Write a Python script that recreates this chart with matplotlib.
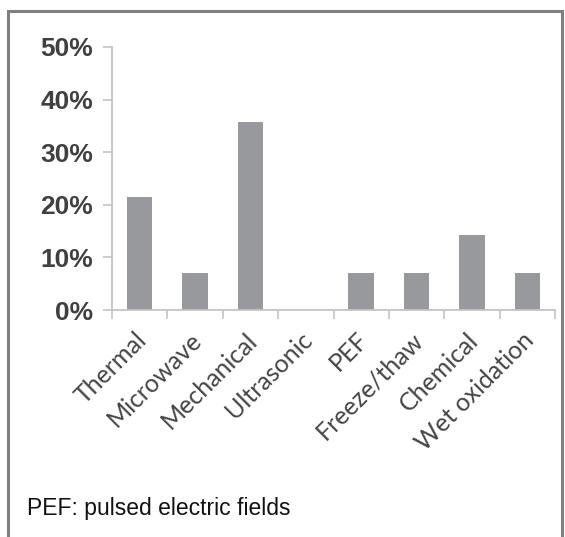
import matplotlib
matplotlib.use("Agg")
import matplotlib.pyplot as plt
import matplotlib.transforms as mtransforms
from matplotlib.patches import Rectangle
from matplotlib.ticker import PercentFormatter

categories = ["Thermal", "Microwave", "Mechanical", "Ultrasonic", "PEF",
              "Freeze/thaw", "Chemical", "Wet oxidation"]
shares = [0.214, 0.071, 0.357, 0.0, 0.071, 0.071, 0.143, 0.071]
yticks = [0.0, 0.1, 0.2, 0.3, 0.4, 0.5]
footnote = "PEF: pulsed electric fields"

W, H = 565, 537
fig = plt.figure(figsize=(W / 100, H / 100), dpi=100)
fig.patch.set_facecolor("white")

# axes box in pixels: x 112..555, y 47..310 (from top)
ax = fig.add_axes([112 / W, (H - 310) / H, (555 - 112) / W, (310 - 47) / H])

x = range(len(categories))
ax.bar(x, shares, width=0.46, color="#98999d")

ax.set_xlim(-0.5, len(categories) - 0.5)
ax.set_ylim(0, 0.5)

for s in ["top", "right"]:
    ax.spines[s].set_visible(False)
for s in ["left", "bottom"]:
    ax.spines[s].set_color("#c4c4c4")
    ax.spines[s].set_linewidth(1.3)

ax.set_yticks(yticks)
ax.yaxis.set_major_formatter(PercentFormatter(1.0, decimals=0))
ax.tick_params(axis="y", length=6.5, width=1.2, color="#c4c4c4", pad=7,
               labelsize=19, labelcolor="#404040")
for lab in ax.get_yticklabels():
    lab.set_fontfamily("Liberation Sans")
    lab.set_fontweight("bold")

# category labels at centres, tick marks at boundaries
ax.set_xticks(list(x))
ax.set_xticklabels(categories, rotation=45, ha="right", va="center",
                   rotation_mode="anchor", fontsize=18, color="#454545",
                   fontfamily="Lato")
ax.tick_params(axis="x", which="major", length=0, pad=19)
ax.set_xticks([i - 0.5 for i in range(len(categories) + 1)], minor=True)
ax.tick_params(axis="x", which="minor", length=6.5, width=1.2, color="#c4c4c4")
offset = mtransforms.ScaledTranslation(3 / 100, 0, fig.dpi_scale_trans)
for lab in ax.get_xticklabels():
    lab.set_transform(lab.get_transform() + offset)

fig.text(27 / W, (H - 515) / H, footnote, fontsize=16.5,
         fontfamily="Liberation Sans", color="#111111", va="baseline")

# outer frame
fig.add_artist(Rectangle((8 / W, -0.05), (562 - 8) / W, (H - 11) / H + 0.05,
                         transform=fig.transFigure, fill=False,
                         edgecolor="#808080", linewidth=2.2))

fig.savefig("out.png", dpi=100)
